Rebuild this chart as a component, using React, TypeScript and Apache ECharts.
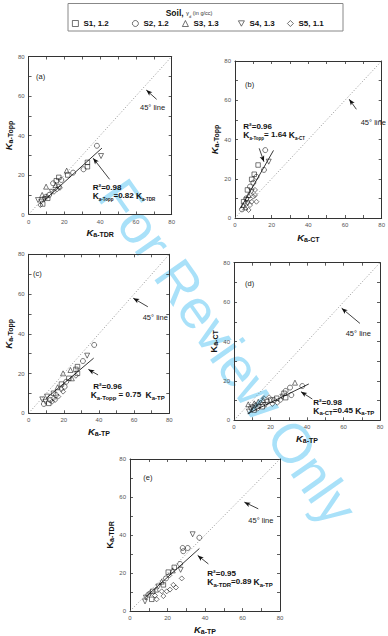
import React, { useEffect, useRef } from 'react';
import * as echarts from 'echarts';

// ---------- data ----------
const soils = ['S1, 1.2', 'S2, 1.2', 'S3, 1.3', 'S4, 1.3', 'S5, 1.1'];
const soilSymbols = ['rect', 'circle', 'triangle', 'triangle', 'diamond'];
const soilRotate = [0, 0, 0, 180, 0];
const legendIcons = ['rect', 'circle', 'triangle', 'path://M0,0L10,0L5,9Z', 'diamond'];
const axisTicks = [0, 20, 40, 60, 80];
const diagonal = [[0, 0], [80, 80]];

// (a) Ka-TDR vs Ka-Topp
const aS1 = [[32.9, 26.4], [32.9, 24.2], [21.9, 20], [16.9, 18.8], [15.5, 17.1], [10.7, 8.2], [7.9, 5.3]];
const aS2 = [[38.2, 34.8], [30.7, 22.9], [24.9, 21.2], [18.3, 17.5], [13.7, 15.8], [16.9, 14.1], [11.5, 9.9], [9.8, 9]];
const aS3 = [[21.3, 22.2], [9.8, 14.1], [7.6, 9.9], [15.1, 14.9]];
const aS4 = [[40.5, 29.6], [5.3, 7.3], [7.1, 6.5], [8.9, 7.7], [13, 11.5]];
const aS5 = [[16, 12.8], [14.2, 11.5], [6.6, 4.8], [17.5, 13.5]];
// (b) Ka-CT vs Ka-Topp
const bS1 = [[12.6, 27], [10.5, 22.3], [9.1, 19.7], [6.8, 14.3], [4.7, 8.3]];
const bS2 = [[16.5, 34.6], [15.8, 24.5], [11.7, 21], [10, 18], [8.2, 16], [6.1, 10], [3.8, 4.4]];
const bS3 = [[7.4, 11.7], [5.6, 5.4], [4.4, 6.6]];
const bS4 = [[18.4, 28.7], [9.1, 13.4], [6.5, 9.2], [6.8, 7.5]];
const bS5 = [[10, 10.9], [10.9, 11.7], [8.2, 6.6], [7.4, 4.1], [9.1, 8.3], [10.9, 14.3], [11.7, 8.3]];
// (c) Ka-TP vs Ka-Topp
const cS1 = [[27.8, 23.5], [26.9, 22.1], [27.8, 20.1], [22.9, 17.6], [18.7, 14.7], [14.2, 10.1], [11.5, 5]];
const cS2 = [[37.3, 34.4], [30.9, 26.3], [21.4, 15.9], [20.5, 13.4], [15.6, 9.2], [12.3, 6.7], [8.7, 4.7]];
const cS3 = [[23.8, 21.8], [19.6, 20.1], [16.5, 13.1], [24.6, 17.6]];
const cS4 = [[33.3, 29], [10.5, 8.4], [9.6, 5.8], [7.8, 7]];
const cS5 = [[26.9, 18.9], [18.7, 12.1], [19.6, 10.9], [16.9, 8.4], [14.2, 7.5], [13.3, 5.8], [15.1, 6.7]];
// (d) Ka-TP vs Ka-CT
const dS1 = [[27.4, 13.7], [28.3, 11.5], [23.4, 11.2], [20.1, 10.3], [15.5, 6.9], [11, 5.2]];
const dS2 = [[37.4, 17.4], [30.7, 16.6], [28.3, 14.9], [31.4, 12.8], [21.9, 10.3], [18.2, 9.4], [12.8, 6.1]];
const dS3 = [[33.4, 19.1], [11.1, 8.6], [13.3, 9.4], [16, 10.3], [7.8, 8.1]];
const dS4 = [[26.5, 12], [17.4, 7.8], [9.2, 5.6], [8.2, 4.4], [10, 6.6]];
const dS5 = [[16.4, 11.2], [19.2, 11.7], [21, 8.3], [23.7, 8.9], [25.6, 10.3], [14.6, 8.9], [13.7, 7.3], [11.9, 7.8]];
// (e) Ka-TP vs Ka-TDR
const eS1 = [[23.6, 23], [20.4, 20.5], [17.8, 13.8], [12.1, 10.4], [11.6, 6.2]];
const eS2 = [[37, 38.6], [28.4, 31.5], [30.8, 33.2], [28.1, 33.2], [26.7, 24.8], [19.2, 17.2], [9.8, 8.7]];
const eS3 = [[22.8, 21.4], [16.9, 15.5], [13.9, 11.3]];
const eS4 = [[33.4, 40.4], [27, 21.7], [8, 5.1], [8.5, 7.1], [15.1, 12.9]];
const eS5 = [[27.6, 17.2], [21.3, 11.3], [23.1, 13.8], [24.5, 12.4], [14.2, 6.2], [17.8, 7.9], [19.6, 10.4], [16.9, 10.4], [13.3, 8.2], [10.7, 9.6], [21, 18.8]];

// regression slopes and fitted x-range
const fitSlopes = [0.82, 1.64, 0.75, 0.45, 0.89];
const fitRanges = [[8, 41], [3, 21], [10, 37], [7.5, 41], [8, 37]];
const r2Values = ['0.98', '0.96', '0.96', '0.98', '0.95'];
// arrows (data coordinates): [from, to]
const arrow45 = [[[71.6, 58.3], [65.8, 63]], [[66.2, 55.4], [62.3, 60.5]], [[67.8, 53.6], [59.5, 57.9]], [[69, 49.2], [59, 56.9]], [[68.4, 53.8], [61, 57.3]]];
const arrowFit = [[[45.3, 17.8], [36.1, 28.5]], [[13.2, 35.5], [15.8, 28.7]], [[39.5, 19.3], [34, 22.1]], [[42.9, 10.8], [36.7, 14.5]], [[41.8, 24.8], [36.1, 29.3]]];

const panelData = [
  [aS1, aS2, aS3, aS4, aS5],
  [bS1, bS2, bS3, bS4, bS5],
  [cS1, cS2, cS3, cS4, cS5],
  [dS1, dS2, dS3, dS4, dS5],
  [eS1, eS2, eS3, eS4, eS5],
];

// ---------- layout ----------
const panels = [
  { label: '(a)', grid: { left: 21.7, top: 56.5, width: 150, height: 158 }, xSub: 'a-TDR', ySub: 'a-Topp', xGap: 12, yGap: 10, yItalic: true,
    lbl: [36, 76], l45: [140, 106], r2: [92.7, 187], eq: [92.7, 196.5], eqL: 'a-Topp', eqR: 'a-TDR', eqSep: '=0.82 ' },
  { label: '(b)', grid: { left: 235, top: 61, width: 152, height: 157 }, xSub: 'a-CT', ySub: 'a-Topp', xGap: 14, yGap: 9, yItalic: true,
    lbl: [245, 84], l45: [360.7, 121], r2: [243.3, 126], eq: [243.3, 135.5], eqL: 'a-Topp', eqR: 'a-CT', eqSep: '= 1.64 ' },
  { label: '(c)', grid: { left: 22.7, top: 254.3, width: 146.6, height: 159 }, xSub: 'a-TP', ySub: 'a-Topp', xGap: 13, yGap: 10, yItalic: true,
    lbl: [33, 273], l45: [142.7, 316], r2: [93.3, 386], eq: [90.7, 395.5], eqL: 'a-Topp', eqR: 'a-TP', eqSep: ' = 0.75  ' },
  { label: '(d)', grid: { left: 234, top: 262.7, width: 146, height: 157.6 }, xSub: 'a-TP', ySub: 'a-CT', xGap: 9, yGap: 13, yItalic: false,
    lbl: [245, 283], l45: [345.7, 332], r2: [313.3, 402], eq: [313.3, 411], eqL: 'a-CT', eqR: 'a-TP', eqSep: '=0.45 ' },
  { label: '(e)', grid: { left: 130, top: 459, width: 150, height: 158.3 }, xSub: 'a-TP', ySub: 'a-TDR', xGap: 9, yGap: 14, yItalic: false,
    lbl: [143.3, 477.5], l45: [248.3, 519], r2: [207.3, 573.5], eq: [207.3, 582.5], eqL: 'a-TDR', eqR: 'a-TP', eqSep: '=0.89 ' },
];
const legendLefts = [72, 132, 182, 238, 287];

const FONT = 'Arial, "Liberation Sans", Helvetica, sans-serif';
const INK = '#111';

const nameRich = {
  K: { fontSize: 9.5, fontWeight: 'bold', fontStyle: 'italic', fontFamily: FONT, color: INK, verticalAlign: 'top', lineHeight: 11 },
  Kn: { fontSize: 9.5, fontWeight: 'bold', fontFamily: FONT, color: INK, verticalAlign: 'top', lineHeight: 11 },
  s: { fontSize: 7, fontWeight: 'bold', fontFamily: FONT, color: INK, verticalAlign: 'bottom', lineHeight: 7, padding: [6, 0, 0, 0] },
};

function axisBase(i: number, pos: string, labels: boolean) {
  return {
    type: 'value', gridIndex: i, min: 0, max: 80, interval: 10, position: pos,
    axisLine: { show: true, onZero: false, lineStyle: { color: '#333', width: 1 } },
    axisTick: { show: true, inside: true, length: 3, lineStyle: { color: '#333', width: 0.8 } },
    axisLabel: {
      show: labels, fontSize: 6, color: '#555', margin: 4, fontFamily: FONT,
      formatter: (v: number) => (axisTicks.includes(v) ? String(v) : ''),
    },
    splitLine: { show: false },
  };
}

export default function App() {
  const ref = useRef<HTMLDivElement>(null);
  useEffect(() => {
    if (!ref.current) return;
    const chart = echarts.init(ref.current, null, { renderer: 'svg' });

    const grids: any[] = [];
    const xAxes: any[] = [];
    const yAxes: any[] = [];
    const series: any[] = [];
    const graphics: any[] = [];

    panels.forEach((p, i) => {
      grids.push({ ...p.grid, show: false });
      xAxes.push({
        ...axisBase(i, 'bottom', true),
        name: `{K|K}{s|${p.xSub}}`, nameLocation: 'middle', nameGap: p.xGap,
        nameTextStyle: { rich: nameRich },
      });
      xAxes.push(axisBase(i, 'top', false));
      yAxes.push({
        ...axisBase(i, 'left', true),
        name: `{${p.yItalic ? 'K' : 'Kn'}|K}{s|${p.ySub}}`, nameLocation: 'middle', nameGap: p.yGap, nameRotate: 90,
        nameTextStyle: { rich: nameRich },
      });
      yAxes.push(axisBase(i, 'right', false));

      // 45 degree line
      series.push({
        type: 'line', xAxisIndex: 2 * i, yAxisIndex: 2 * i, data: diagonal, symbol: 'none', silent: true, z: 1,
        color: INK,
        lineStyle: { color: '#888', width: 0.9, type: [1, 2] },
      });
      // annotation arrows (head rotated along the segment direction on screen)
      const sx = p.grid.width / 80;
      const sy = p.grid.height / 80;
      [arrow45[i], arrowFit[i]].forEach((a) => {
        const ang = Math.atan2((a[1][1] - a[0][1]) * sy, (a[1][0] - a[0][0]) * sx) * 180 / Math.PI;
        series.push({
          type: 'line', xAxisIndex: 2 * i, yAxisIndex: 2 * i, data: a, silent: true, z: 5,
          color: INK, showSymbol: true,
          symbol: (_v: any, params: any) => (params.dataIndex === 1 ? 'arrow' : 'none'),
          symbolSize: [3.6, 6],
          symbolRotate: ang - 90,
          itemStyle: { color: INK },
          lineStyle: { color: INK, width: 0.8 },
        });
      });
      // regression line
      const k = fitSlopes[i];
      const [x0, x1] = fitRanges[i];
      series.push({
        type: 'line', xAxisIndex: 2 * i, yAxisIndex: 2 * i, data: [[x0, k * x0], [x1, k * x1]],
        symbol: 'none', silent: true, z: 3, color: INK, lineStyle: { color: '#000', width: 0.8 },
      });
      // scatter
      panelData[i].forEach((d, j) => {
        series.push({
          type: 'scatter', name: soils[j], xAxisIndex: 2 * i, yAxisIndex: 2 * i, data: d,
          symbol: soilSymbols[j], symbolRotate: soilRotate[j], symbolSize: soilSymbols[j] === 'rect' ? 4.5 : 5, z: 4,
          itemStyle: { color: 'rgba(0,0,0,0)', borderColor: INK, borderWidth: 0.7 },
        });
      });

      // texts
      graphics.push({ type: 'text', x: p.lbl[0], y: p.lbl[1], z: 10,
        style: { text: p.label, fontSize: 7.5, fontFamily: FONT, fill: '#222', verticalAlign: 'middle' } });
      graphics.push({ type: 'text', x: p.l45[0], y: p.l45[1] + 1, z: 10,
        style: { text: '45° line', fontSize: 7.5, fontFamily: FONT, fill: '#222', verticalAlign: 'middle' } });
      graphics.push({ type: 'text', x: p.r2[0], y: p.r2[1], z: 10,
        style: { text: `R²=${r2Values[i]}`, fontSize: 8, fontWeight: 'bold', fontFamily: FONT, fill: INK, verticalAlign: 'middle' } });
      const eqRich = {
        K: { fontSize: 8.5, fontWeight: 'bold', fontFamily: FONT, fill: INK, verticalAlign: 'top', lineHeight: 10 },
        s: { fontSize: i < 2 ? 4.5 : 6, fontWeight: 'bold', fontFamily: FONT, fill: INK, verticalAlign: 'bottom', lineHeight: 6, padding: [6, 0, 0, 0] },
        t: { fontSize: 8, fontWeight: 'bold', fontFamily: FONT, fill: INK, verticalAlign: 'top', lineHeight: 10 },
      };
      graphics.push({ type: 'text', x: p.eq[0], y: p.eq[1], z: 10,
        style: { text: `{K|K}{s|${p.eqL}}{t|${p.eqSep}}{K|K}{s|${p.eqR}}`, verticalAlign: 'middle', fill: INK, rich: eqRich } });
    });

    // watermark
    graphics.push({
      type: 'text', x: 228, y: 352, rotation: -55 * Math.PI / 180, z: 0, silent: true,
      style: { text: 'For Review Only', fontSize: 55, fontFamily: FONT, fill: 'rgba(40,180,240,0.4)', align: 'center', verticalAlign: 'middle' },
    });
    // legend box + title
    graphics.push({ type: 'rect', shape: { x: 68, y: 3.5, width: 275, height: 27.5 }, z: 10,
      style: { fill: 'none', stroke: '#888', lineWidth: 1 } });
    graphics.push({ type: 'text', x: 189, y: 13, z: 10,
      style: {
        text: '{b|Soil, }{g|γ}{d|d}{r| (in g/cc)}', align: 'center', verticalAlign: 'middle', fill: INK,
        rich: {
          b: { fontSize: 8.5, fontWeight: 'bold', fontFamily: FONT, fill: INK, verticalAlign: 'top', lineHeight: 10 },
          g: { fontSize: 6, fontFamily: FONT, fill: '#333', verticalAlign: 'top', lineHeight: 10, padding: [2, 0, 0, 0] },
          d: { fontSize: 4, fontFamily: FONT, fill: '#333', verticalAlign: 'bottom', lineHeight: 5, padding: [6, 0, 0, 0] },
          r: { fontSize: 5.5, fontFamily: FONT, fill: '#333', verticalAlign: 'top', lineHeight: 10, padding: [2, 0, 0, 0] },
        },
      } });

    const legends = soils.map((s, j) => ({
      data: [{ name: s, icon: legendIcons[j] }], left: legendLefts[j], top: 19.5, padding: 0, itemWidth: 6, itemHeight: 6, itemGap: 0,
      selectedMode: false,
      itemStyle: { color: 'rgba(0,0,0,0)', borderColor: '#222', borderWidth: 0.8 },
      textStyle: { fontSize: 8, fontWeight: 'bold', fontFamily: FONT, color: INK, padding: [0, 0, 0, 0] },
    }));

    chart.setOption({
      animation: false,
      color: [INK],
      backgroundColor: '#fff',
      grid: grids,
      xAxis: xAxes,
      yAxis: yAxes,
      legend: legends,
      series,
      graphic: graphics,
    });
    return () => chart.dispose();
  }, []);
  return <div ref={ref} style={{ position: 'absolute', left: 0, top: 0, width: 388, height: 636 }} />;
}
